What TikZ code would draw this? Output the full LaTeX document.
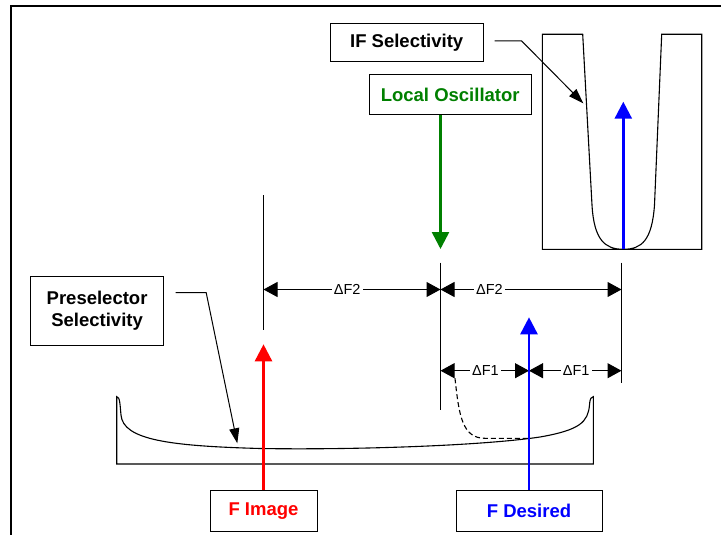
\documentclass[tikz,border=0pt]{standalone}
\usepackage{fontspec}
\setmainfont{Liberation Sans}
\usetikzlibrary{arrows.meta}
\definecolor{logreen}{RGB}{0,128,0}

\begin{document}
\begin{tikzpicture}[x=1pt, y=-1pt,
  lbox/.style={draw, line width=1pt, fill=white, inner sep=0pt, align=center,
    font=\fontsize{18.5}{21.5}\selectfont\bfseries},
  sig/.style={line width=2.6pt, -{Triangle[length=17pt,width=17pt]}},
  dim/.style={line width=1pt, {Triangle[length=14pt,width=15pt]}-{Triangle[length=14pt,width=15pt]}},
  dimlbl/.style={fill=white, inner xsep=2pt, inner ysep=1pt, anchor=west,
    font=\fontsize{14.5}{16}\selectfont},
  ptr/.style={line width=1pt, -{Triangle[length=15pt,width=10pt]}},
  tick/.style={line width=1pt},
  curve/.style={line width=1.1pt}]

 \useasboundingbox (0,0) rectangle (721,535);

 % frame
 \draw [line width=2pt] (11,545) -- (11,6.5) -- (730,6.5);

 %%%  nodes

 % label boxes
 \node [lbox, minimum width=153pt, minimum height=38pt] (ifsel) at (406.7,42.5) {IF Selectivity};
 \node [lbox, minimum width=162pt, minimum height=40pt, text=logreen] (lo) at (450.2,95) {Local Oscillator};
 \node [lbox, minimum width=133pt, minimum height=69pt] (presel) at (97.1,310.5) {Preselector\\Selectivity};
 \node [lbox, minimum width=107pt, minimum height=41pt, text=red] (img) at (263.5,511.2) {F Image};
 \node [lbox, minimum width=146pt, minimum height=41pt, text=blue] (des) at (529,511.2) {F Desired};

 % end points
 \coordinate (imgtip) at (263.5,344.3);
 \coordinate (destip) at (529,317.3);
 \coordinate (lotip) at (440.5,249);
 \coordinate (ifbase) at (623.3,249.3);
 \coordinate (iftip) at (623.3,101.7);

 % tick lines
 \coordinate (ta) at (263.5,195);
 \coordinate (tb) at (263.5,330);
 \coordinate (tc) at (440.5,262.7);
 \coordinate (td) at (440.5,410);
 \coordinate (te) at (621.5,262.7);
 \coordinate (tf) at (621.5,383.3);

 % dimension points
 \coordinate (fa) at (263.5,289.5);
 \coordinate (fb) at (440.5,289.5);
 \coordinate (fc) at (621.5,289.5);
 \coordinate (ga) at (440.5,370.7);
 \coordinate (gb) at (529,370.7);
 \coordinate (gc) at (621.5,370.7);

 % pointers
 \coordinate (ifstart) at ([xshift=11pt, yshift=1.5pt]ifsel.east);
 \coordinate (ifknee) at (521.7,41);
 \coordinate (ifend) at (583.3,103.3);
 \coordinate (prestart) at ([xshift=11.5pt, yshift=17.8pt]presel.east);
 \coordinate (preknee) at (206.2,292.7);
 \coordinate (preend) at (237.3,443.3);

 %%%  filters

 % if filter
 \draw [curve] (542.3,249.3) -- (542.3,34.3) -- (582.7,34.3) -- (592,205)
   .. controls (594,240) and (605,249.3) .. (623.3,249.3)
   .. controls (642,249.3) and (652,240) .. (654.5,205)
   -- (661.7,34.3) -- (701.7,34.3) -- (701.7,249.3) -- cycle;

 % preselector filter
 \draw [curve] (116.7,464) -- (116.7,396.7)
   .. controls (120,396.7) and (120,405) .. (121,415)
   .. controls (123,440) and (170,446) .. (260,448.5)
   .. controls (350,450) and (480,446) .. (540,437)
   .. controls (580,430) and (588,422) .. (589.5,405)
   .. controls (590,398) and (591.5,396.7) .. (593.3,396.7)
   -- (593.3,464) -- cycle;
 \draw [curve, dash pattern=on 5pt off 3pt] (455,378.3)
   .. controls (459,415) and (462,438.3) .. (485,438.3) -- (530,438.3);

 %%%  dimensions

 \draw [tick] (ta) -- (tb);
 \draw [tick] (tc) -- (td);
 \draw [tick] (te) -- (tf);

 \draw [dim] (fa) -- (fb);
 \draw [dim] (fb) -- (fc);
 \draw [dim] (ga) -- (gb);
 \draw [dim] (gb) -- (gc);

 \node [dimlbl] (la) at (331.7,289.5) {ΔF2\hspace{11pt}};
 \node [dimlbl] (lb) at (474,289.5) {ΔF2\hspace{11pt}};
 \node [dimlbl] (lc) at (470,370.7) {ΔF1\hspace{2pt}};
 \node [dimlbl] (ld) at (560.7,370.7) {ΔF1\hspace{5pt}};

 %%%  arrows

 \draw [ptr] (ifstart) -- (ifknee) -- (ifend);
 \draw [ptr] (prestart) -- (preknee) -- (preend);

 \draw [sig, red] (img) -- (imgtip);
 \draw [sig, blue] (des) -- (destip);
 \draw [sig, logreen] (lo.south -| lotip) -- (lotip);
 \draw [sig, blue] (ifbase) -- (iftip);

\end{tikzpicture}
\end{document}
